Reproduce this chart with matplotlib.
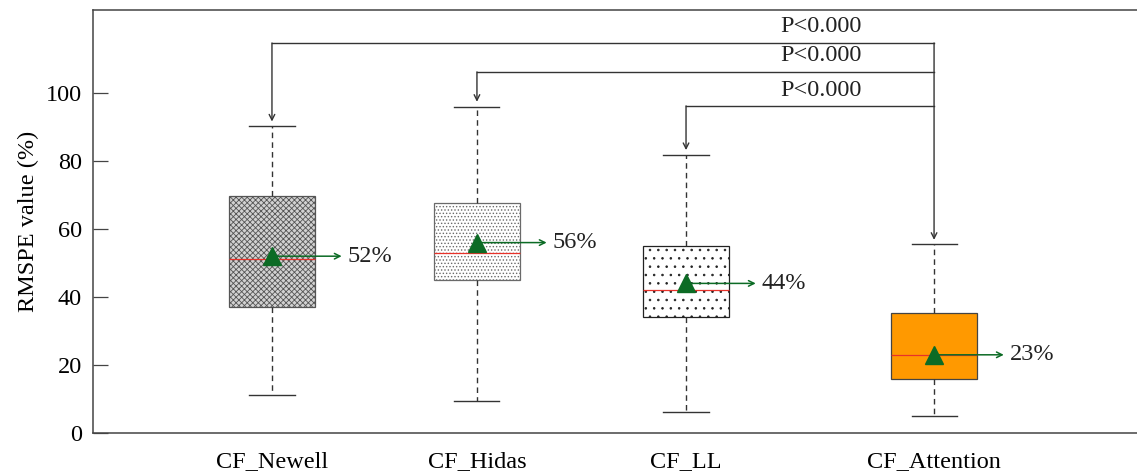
import matplotlib.pyplot as plt

plt.rcParams['font.family'] = ['Liberation Serif', 'DejaVu Serif']
plt.rcParams['hatch.linewidth'] = 0.6

# box statistics for each model (RMSPE, %)
models = ['CF_Newell', 'CF_Hidas', 'CF_LL', 'CF_Attention']
positions = [1.0, 2.0, 3.02, 4.23]
whislo = [11.2, 9.4, 6.2, 5.0]
q1 = [37.1, 45.0, 34.1, 15.9]
med = [51.2, 52.9, 42.1, 22.9]
q3 = [69.7, 67.6, 55.0, 35.3]
whishi = [90.3, 95.9, 81.8, 55.6]
means = [52, 56, 44, 23]
mean_labels = ['52%', '56%', '44%', '23%']

# significance brackets: bracket height, arrow tip, text height
p_text = ['P<0.000', 'P<0.000', 'P<0.000']
bracket_y = [114.7, 106.2, 96.2]
bracket_tip = [91.6, 97.4, 83.2]
bracket_label_y = [119.6, 110.9, 100.6]

face = ['#d2d2d2', 'white', 'white', '#ff9900']
hatches = ['xxxxxx', '.....', '..', None]
edge_col = ['#555555', '#6a6a6a', '#222222', '#444444']

fig = plt.figure(figsize=(11.37, 4.76), dpi=100)
ax = fig.add_axes([0.0818, 0.0903, 0.9182, 0.8887])

stats = []
for i in range(len(models)):
    stats.append(dict(whislo=whislo[i], q1=q1[i], med=med[i], q3=q3[i],
                      whishi=whishi[i], fliers=[], label=models[i]))

bp = ax.bxp(stats, positions=positions, widths=0.42, patch_artist=True,
            showfliers=False, capwidths=0.22,
            boxprops=dict(linewidth=0.9),
            whiskerprops=dict(linestyle=(0, (4, 3)), linewidth=1.0, color='#333333'),
            capprops=dict(linewidth=1.0, color='#333333'),
            medianprops=dict(color='#e8322a', linewidth=0.9))

for i, box in enumerate(bp['boxes']):
    box.set_facecolor(face[i])
    box.set_edgecolor(edge_col[i])
    if hatches[i]:
        box.set_hatch(hatches[i])

green = '#0c6b25'
ax.plot(positions, means, linestyle='none', marker='^', markersize=13,
        color=green, zorder=5)
for i in range(len(models)):
    ax.annotate('', xy=(positions[i] + 0.34, means[i]), xytext=(positions[i], means[i]),
                arrowprops=dict(arrowstyle='->', color=green, lw=1.1,
                                shrinkA=0, shrinkB=0), zorder=4)
    ax.text(positions[i] + 0.37, means[i], mean_labels[i], fontsize=17.5,
            va='center', ha='left', color='#222222')

# brackets from CF_Attention to the other models
line_kw = dict(color='#333333', lw=1.0)
x_att = positions[3]
for i in range(3):
    ax.plot([positions[i], x_att], [bracket_y[i], bracket_y[i]], **line_kw)
    ax.annotate('', xy=(positions[i], bracket_tip[i]), xytext=(positions[i], bracket_y[i]),
                arrowprops=dict(arrowstyle='->', color='#333333', lw=1.0,
                                shrinkA=0, shrinkB=0))
    ax.text(3.68, bracket_label_y[i], p_text[i], fontsize=17.5, ha='center',
            va='center', color='#222222')
ax.annotate('', xy=(x_att, whishi[3] + 1.2), xytext=(x_att, bracket_y[0]),
            arrowprops=dict(arrowstyle='->', color='#333333', lw=1.0,
                            shrinkA=0, shrinkB=0))

ax.set_xlim(0.127, 5.22)
ax.set_ylim(0, 124.4)
ax.set_yticks([0, 20, 40, 60, 80, 100])
ax.set_xticks(positions)
ax.set_xticklabels(models)
ax.tick_params(axis='y', direction='in', length=11, width=0.9, labelsize=17.5,
               color='#444444', pad=8)
ax.tick_params(axis='x', length=0, labelsize=17.5, pad=13)
ax.set_ylabel('RMSPE value (%)', fontsize=17.5, labelpad=5)

for side in ['left', 'top', 'bottom']:
    ax.spines[side].set_color('#444444')
    ax.spines[side].set_linewidth(1.1)
ax.spines['right'].set_visible(False)

fig.savefig('out.png', dpi=100)
